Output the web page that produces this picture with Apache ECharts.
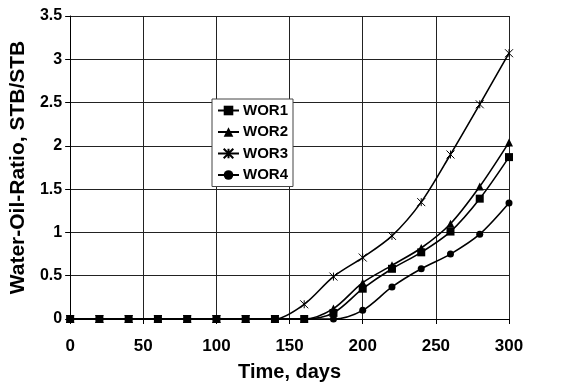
<!DOCTYPE html>
<html><head><meta charset="utf-8">
<script src="https://cdn.jsdelivr.net/npm/echarts@6/dist/echarts.min.js"></script>
<style>html,body{margin:0;padding:0;background:#fff}#c{width:577px;height:387px}</style>
</head><body><div id="c"></div>
<script>
const days = [0,20,40,60,80,100,120,140,160,180,200,220,240,260,280,300];
const wor1 = [0,0,0,0,0,0,0,0,0,0.07,0.35,0.58,0.77,1.01,1.39,1.87];
const wor2 = [0,0,0,0,0,0,0,0,0,0.12,0.42,0.62,0.82,1.10,1.53,2.04];
const wor3 = [0,0,0,0,0,0,0,0,0.17,0.49,0.71,0.96,1.35,1.90,2.48,3.07];
const wor4 = [0,0,0,0,0,0,0,0,0,0,0.10,0.37,0.58,0.75,0.98,1.34];
const names = ['WOR1','WOR2','WOR3','WOR4'];

const font = 'Liberation Sans, Arial, sans-serif';
const star = 'path://M0,0L10,10M10,0L0,10M5,0L5,10';
function mk(name, vals, symbol, size, hollow, z){
  return {
    name, type:'line', smooth:0.3,
    data: days.map((d,i)=>[d, vals[i]]),
    symbol, symbolSize:size,
    lineStyle:{color:'#000', width:1.6},
    itemStyle: hollow ? {color:'rgba(0,0,0,0)', borderColor:'#000', borderWidth:1} : {color:'#000'},
    emphasis:{disabled:true}, z
  };
}
const chart = echarts.init(document.getElementById('c'), null, {renderer:'canvas'});
chart.setOption({
  animation:false,
  backgroundColor:'#fff',
  grid:{left:69, right:68, top:16, bottom:68},
  legend:{
    left:212, top:99, orient:'vertical',
    data: names,
    backgroundColor:'#fff', borderColor:'#444', borderWidth:1,
    padding:[4,5,4,5], itemGap:6.5, itemWidth:21, itemHeight:12,
    textStyle:{fontFamily:font, fontWeight:'bold', fontSize:15, lineHeight:15, color:'#000', padding:[0,0,0,-1]}
  },
  xAxis:{
    type:'value', min:0, max:300, interval:50,
    name:'Time, days', nameLocation:'middle', nameGap:43,
    nameTextStyle:{fontFamily:font, fontWeight:'bold', fontSize:20, color:'#000'},
    axisLine:{lineStyle:{color:'#000', width:1}},
    axisTick:{show:true, length:5, lineStyle:{color:'#000'}},
    axisLabel:{fontFamily:font, fontWeight:'bold', fontSize:17, color:'#000', margin:19},
    splitLine:{show:true, lineStyle:{color:'#222', width:1}}
  },
  yAxis:{
    type:'value', min:0, max:3.5, interval:0.5,
    name:'Water-Oil-Ratio, STB/STB', nameLocation:'middle', nameGap:41,
    nameTextStyle:{fontFamily:font, fontWeight:'bold', fontSize:21, color:'#000'},
    axisLine:{show:true, lineStyle:{color:'#000', width:1}},
    axisTick:{show:true, length:5, lineStyle:{color:'#000'}},
    axisLabel:{fontFamily:font, fontWeight:'bold', fontSize:16, color:'#000', margin:8},
    splitLine:{show:true, lineStyle:{color:'#222', width:1}}
  },
  series:[
    mk('WOR1', wor1, 'rect', 8, false, 6),
    mk('WOR2', wor2, 'triangle', 8, false, 5),
    mk('WOR3', wor3, star, 8, true, 4),
    mk('WOR4', wor4, 'circle', 7, false, 3)
  ]
});
</script></body></html>
